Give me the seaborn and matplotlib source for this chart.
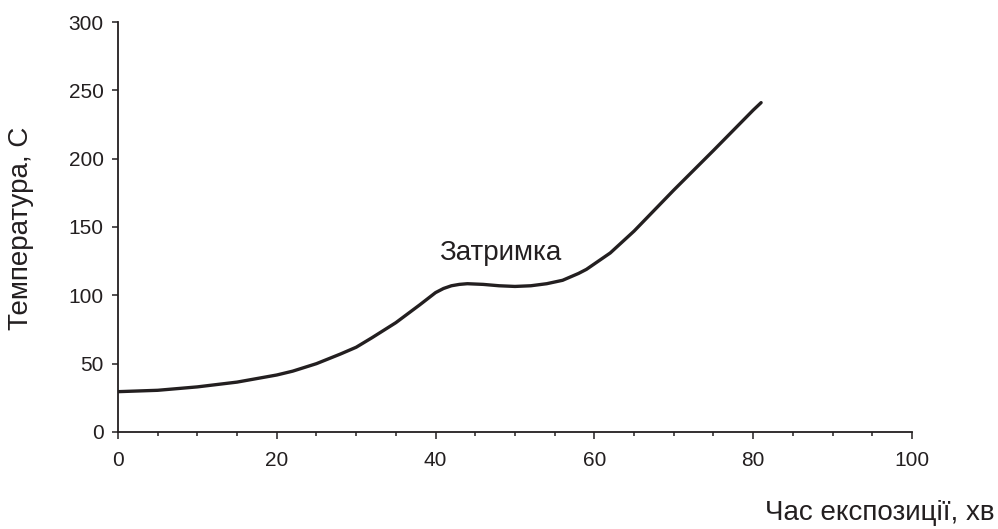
import matplotlib
matplotlib.use("Agg")
import pandas as pd
import matplotlib.pyplot as plt
import seaborn as sns
from matplotlib.ticker import MultipleLocator

# Data
time_min = [0, 5, 10, 15, 20, 22, 25, 28, 30, 32, 35, 38, 40, 41, 42, 43, 44, 46, 48, 50, 52, 54,
            56, 58, 59, 60, 62, 65, 68, 70, 75, 80, 81]
temp_c = [29.5, 30.5, 33, 36.5, 41.7, 44.5, 50, 57, 62, 69, 80, 93, 102, 105, 107, 108, 108.5, 108,
          107, 106.5, 107, 108.5, 111, 116, 119, 123, 131, 147, 165, 177, 206, 235.5, 241]

df = pd.DataFrame({"time": time_min, "temp": temp_c})

sns.set_style("ticks")
plt.rcParams["font.family"] = ["Liberation Sans", "DejaVu Sans"]
ink = "#231f20"

fig = plt.figure(figsize=(9.98, 5.29), dpi=100)
ax = fig.add_axes([0.1182, 0.1834, 0.7956, 0.775])

sns.lineplot(data=df, x="time", y="temp", color=ink, linewidth=2.4, ax=ax)

ax.set_xlim(0, 100)
ax.set_ylim(0, 300)
ax.xaxis.set_major_locator(MultipleLocator(20))
ax.xaxis.set_minor_locator(MultipleLocator(5))
ax.yaxis.set_major_locator(MultipleLocator(50))
ax.tick_params(axis="both", which="major", labelsize=15, width=1.1, color=ink, labelcolor=ink, direction="out")
ax.tick_params(axis="y", which="major", length=4.3, pad=6)
ax.tick_params(axis="x", which="major", length=5, pad=9)
ax.tick_params(axis="x", which="minor", direction="out", length=3, width=1.1, color=ink)
for s in ["top", "right"]:
    ax.spines[s].set_visible(False)
for s in ["left", "bottom"]:
    ax.spines[s].set_linewidth(1.3)
    ax.spines[s].set_color(ink)

ax.set_xlabel("")
ax.set_ylabel("")
fig.text(21 / 998, 1 - 228 / 529, "Температура, С", fontsize=20, rotation=90,
         ha="center", va="center", color=ink)
fig.text(995 / 998, 1 - 513 / 529, "Час експозиції, хв", fontsize=20, ha="right", va="center", color=ink)
ax.text(48.1, 131, "Затримка", fontsize=20, ha="center", va="center", color=ink)

fig.savefig("out.png", dpi=100)
